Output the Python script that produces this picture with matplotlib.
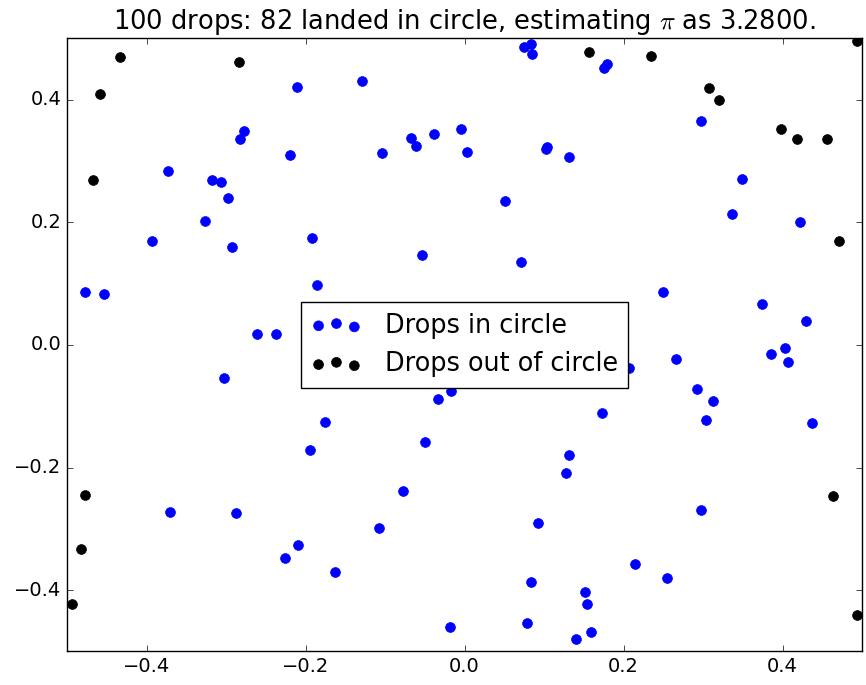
import matplotlib
matplotlib.use("Agg")
import matplotlib.pyplot as plt

plt.style.use("classic")

# Drops inside the circle (visible ones)
in_x = [-0.211, -0.277, -0.282, -0.220, -0.373, -0.318, -0.306, -0.298, -0.326, -0.393,
        -0.192, -0.292, 0.075, 0.083, 0.085, 0.175, 0.179, -0.129, -0.004, -0.039,
        -0.067, -0.061, -0.104, 0.003, 0.104, 0.102, 0.131, 0.051, 0.297, 0.349,
        0.336, 0.422, -0.478, -0.454, -0.186, -0.261, -0.237, -0.302, -0.176, -0.194,
        -0.053, 0.071, -0.017, -0.033, 0.173, -0.050, 0.131, 0.250, 0.374, 0.430,
        0.403, 0.386, 0.407, 0.266, 0.207, 0.292, 0.313, 0.304, 0.437, -0.370,
        -0.288, -0.210, -0.226, -0.163, -0.078, -0.108, -0.018, 0.128, 0.093, 0.084,
        0.151, 0.154, 0.079, 0.159, 0.140, 0.297, 0.215, 0.255]
in_y = [0.421, 0.349, 0.336, 0.310, 0.283, 0.269, 0.266, 0.239, 0.202, 0.169,
        0.175, 0.159, 0.486, 0.490, 0.475, 0.451, 0.458, 0.431, 0.352, 0.344,
        0.338, 0.325, 0.313, 0.314, 0.322, 0.319, 0.307, 0.235, 0.365, 0.271,
        0.213, 0.200, 0.087, 0.083, 0.097, 0.018, 0.018, -0.054, -0.126, -0.172,
        0.146, 0.135, -0.076, -0.089, -0.111, -0.159, -0.179, 0.087, 0.066, 0.039,
        -0.005, -0.015, -0.028, -0.023, -0.038, -0.072, -0.091, -0.122, -0.128, -0.272,
        -0.274, -0.327, -0.347, -0.370, -0.239, -0.299, -0.460, -0.209, -0.291, -0.387,
        -0.403, -0.423, -0.454, -0.468, -0.479, -0.270, -0.358, -0.381]

# Drops outside the circle
out_x = [-0.433, -0.284, -0.458, -0.467, 0.157, 0.234, 0.494, 0.308, 0.320, 0.398,
         0.418, 0.456, 0.471, -0.478, -0.483, -0.494, 0.463, 0.494]
out_y = [0.469, 0.461, 0.409, 0.269, 0.477, 0.471, 0.496, 0.419, 0.400, 0.352,
         0.336, 0.336, 0.169, -0.245, -0.333, -0.422, -0.247, -0.441]

n_drops = 100
n_in = 82
pi_est = 4.0 * n_in / n_drops

fig = plt.figure(figsize=(8.66, 6.85), dpi=100)
ax = fig.add_axes([0.0774, 0.049, 0.9180, 0.895])
ax.scatter(in_x, in_y, s=50, c="blue", edgecolors="blue", linewidths=0.5,
           label="Drops in circle")
ax.scatter(out_x, out_y, s=50, c="black", edgecolors="black", linewidths=0.5,
           label="Drops out of circle")
ax.set_xlim(-0.5, 0.5)
ax.set_ylim(-0.5, 0.5)
ax.set_xticks([-0.4, -0.2, 0.0, 0.2, 0.4])
ax.set_yticks([-0.4, -0.2, 0.0, 0.2, 0.4])
ax.tick_params(labelsize=14)
ax.legend(loc="center", fontsize=18.4, handlelength=2.0, handletextpad=0.9)
ax.set_title("%d drops: %d landed in circle, estimating $\\pi$ as %.4f." % (n_drops, n_in, pi_est),
             fontsize=18.5, pad=7)
fig.savefig("out.png", dpi=100)
